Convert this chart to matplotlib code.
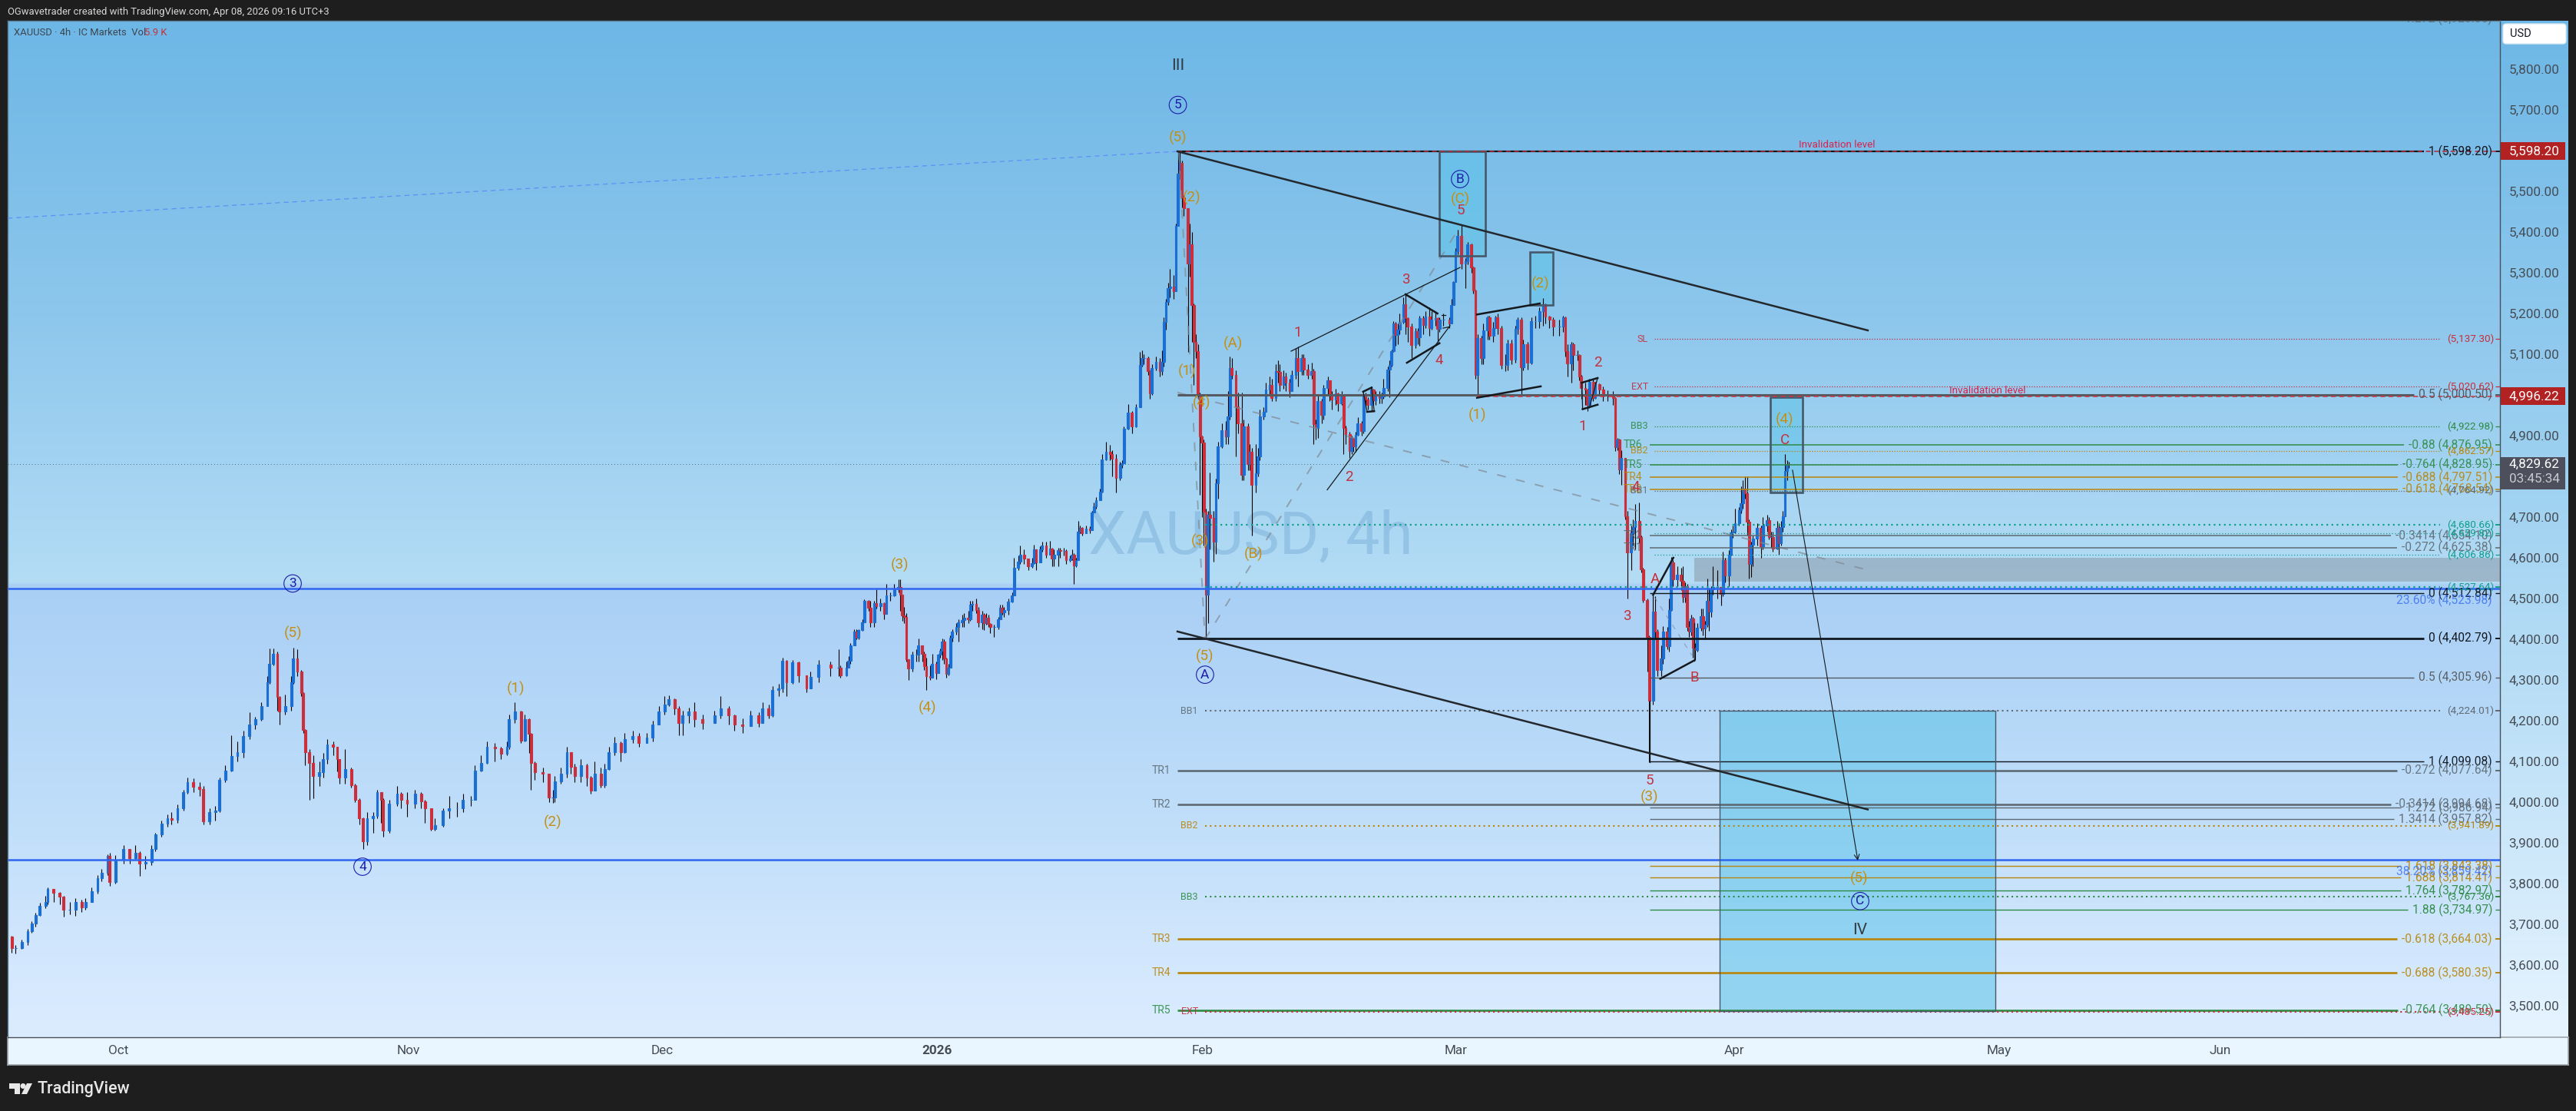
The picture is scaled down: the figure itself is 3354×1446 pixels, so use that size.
import matplotlib
matplotlib.use('Agg')
from matplotlib import pyplot as plt
from matplotlib import colors as mcolors
from matplotlib.patches import FancyBboxPatch, Polygon, Circle, Rectangle
from matplotlib.transforms import IdentityTransform
import numpy as np

plt.rcParams['font.family'] = ['Roboto', 'DejaVu Sans']

# 蜡烛数据: 价格 (横轴为4小时K线序号)
first_open = 3669
bars_autumn = [2,4,7,10,12,14,16,19,20,23,26,28,31,34,37,39,42,45,47,50,51,54,58,61,64,66,69,72,74,77,
               80,82,85,88,90,93,96,98,101,104,106,109,112,115,118,121,124,127,130,131,133,135,136,139,142,143,145,147,148,149,
               151,153,156,158,160,163,165,166,169,172,174,176,178,180,183,185,187,188,191,195,197,200,204,207,209,212,214,218,221,225,
               228,232,234,237,240,244,247,250,251,254,257,259,261,262,264,268,271,273,274,277,280,282,284,287,290,292,294,297,299,301,
               304,307,309,313,316,320,323,326,329,331,334,336,338,341,344,348,354,357,361,364,368,372,376,378,381,383,386,388,390,393,
               396,400,402,406,412,416,417,420]
close_autumn = [3642,3642,3656,3683,3701,3723,3746,3755,3786,3777,3768,3735,3735,3755,3741,3755,3781,3813,3826,3867,3804,3858,3885,3862,3876,3849,3853,3885,3921,3948,
                3961,3957,3984,4024,4049,4037,4033,3952,3975,3979,4055,4078,4114,4123,4163,4190,4204,4235,4294,4339,4365,4258,4222,4235,4294,4352,4321,4267,4177,4123,
                4096,4064,4073,4105,4141,4136,4105,4060,4082,4042,4006,3961,3903,3961,3966,4024,4006,3930,3997,4020,4006,3997,4020,4002,3984,3934,3943,3979,3984,3984,
                4006,4006,4078,4096,4136,4132,4118,4136,4204,4222,4150,4204,4168,4096,4073,4069,4011,4011,4051,4069,4123,4087,4064,4091,4060,4029,4069,4042,4082,4123,
                4145,4123,4154,4163,4145,4159,4190,4222,4240,4253,4231,4195,4213,4222,4204,4195,4213,4231,4213,4190,4186,4213,4195,4231,4213,4276,4280,4347,4294,4343,
                4311,4280,4307,4338,4330,4330,4312,4330]
high_autumn = [3672,3650,3662,3688,3708,3728,3752,3770,3790,3785,3780,3770,3755,3765,3760,3765,3790,3820,3835,3872,3875,3870,3895,3885,3895,3880,3868,3895,3925,3955,
               3970,3975,3995,4030,4060,4058,4050,4040,3985,3990,4060,4090,4165,4150,4175,4220,4210,4245,4310,4378,4378,4370,4260,4265,4310,4380,4375,4325,4270,4180,
               4130,4115,4100,4120,4155,4150,4135,4105,4130,4085,4045,4010,3962,3975,3975,4030,4025,4010,4005,4040,4025,4025,4030,4025,4005,3985,3960,3985,4015,4000,
               4020,4015,4090,4115,4150,4145,4135,4150,4215,4245,4225,4215,4205,4170,4100,4085,4070,4030,4065,4085,4135,4120,4095,4105,4095,4065,4100,4085,4095,4135,
               4160,4150,4170,4175,4170,4170,4200,4235,4260,4262,4255,4235,4225,4232,4245,4215,4225,4260,4235,4215,4205,4225,4220,4245,4240,4285,4290,4355,4350,4350,
               4345,4310,4320,4350,4345,4375,4335,4345]
low_autumn = [3630,3628,3640,3650,3680,3695,3720,3740,3750,3755,3750,3718,3725,3720,3730,3735,3755,3775,3805,3820,3795,3800,3850,3850,3860,3818,3835,3845,3880,3915,
              3940,3945,3950,3980,4020,4025,4015,3945,3945,3955,3975,4050,4075,4100,4110,4155,4180,4200,4235,4290,4335,4225,4190,4215,4225,4290,4310,4260,4170,4090,
              4005,4010,4040,4060,4095,4115,4075,4045,4045,4035,4000,3945,3885,3895,3925,3960,3950,3915,3925,3990,3985,3965,3985,3985,3950,3930,3930,3940,3960,3965,
              3975,3990,4005,4075,4095,4100,4105,4115,4130,4195,4145,4150,4120,4030,4055,4050,4000,3998,4000,4045,4060,4070,4050,4050,4040,4020,4030,4035,4035,4080,
              4115,4100,4120,4145,4135,4150,4150,4190,4215,4235,4215,4165,4165,4195,4185,4180,4195,4205,4190,4175,4170,4190,4185,4205,4205,4210,4260,4270,4260,4290,
              4295,4270,4285,4295,4310,4310,4305,4310]

bars_winter = [421,422,424,425,426,428,429,431,432,434,435,437,439,440,442,444,446,447,448,449,450,451,453,455,456,458,459,460,462,463,
               465,466,467,468,469,470,471,472,473,475,476,478,479,481,482,483,485,486,488,489,490,491,492,494,496,497,498,499,501,503,
               504,506,507,509,511,513,514,515,517,518,520,522,523,524,526,527,529,530,532,533,534,535,536,537,538,540,542,543,544,545,
               547,548,550,552,553,555,557,558,559,561,563,565,567]
close_winter = [4347,4384,4419,4403,4422,4441,4494,4477,4441,4489,4482,4489,4462,4508,4508,4523,4529,4510,4458,4455,4350,4328,4362,4362,4384,4365,4334,4309,4306,4340,
                4317,4362,4372,4395,4353,4316,4331,4404,4418,4431,4441,4447,4453,4449,4485,4487,4472,4441,4460,4439,4453,4437,4430,4430,4449,4477,4466,4472,4493,4508,
                4575,4590,4608,4598,4579,4587,4621,4589,4621,4631,4608,4623,4598,4608,4618,4617,4617,4594,4598,4608,4581,4595,4665,4674,4661,4672,4667,4711,4726,4741,
                4763,4841,4860,4854,4844,4797,4829,4832,4917,4957,4923,4970,5074]
high_winter = [4358,4390,4425,4425,4425,4450,4498,4496,4495,4495,4523,4500,4490,4535,4515,4535,4548,4548,4490,4480,4465,4350,4370,4375,4402,4385,4370,4355,4335,4365,
               4345,4365,4378,4402,4400,4355,4340,4410,4425,4440,4450,4460,4465,4470,4495,4495,4500,4480,4470,4465,4465,4460,4440,4436,4455,4485,4485,4480,4500,4515,
               4600,4605,4630,4620,4595,4600,4632,4620,4628,4640,4640,4642,4625,4620,4625,4625,4625,4620,4605,4620,4612,4600,4690,4680,4675,4680,4678,4716,4735,4750,
               4770,4855,4885,4878,4865,4855,4835,4840,4922,4977,4960,4978,5105]
low_winter = [4335,4340,4384,4400,4400,4420,4441,4470,4430,4430,4475,4470,4450,4490,4495,4505,4515,4470,4445,4440,4345,4300,4320,4345,4345,4345,4325,4275,4300,4305,
              4302,4320,4355,4350,4340,4305,4312,4343,4395,4412,4395,4430,4430,4440,4445,4470,4465,4430,4425,4422,4435,4430,4415,4405,4425,4450,4460,4455,4460,4490,
              4508,4570,4585,4585,4570,4575,4585,4570,4590,4615,4600,4620,4580,4580,4580,4600,4605,4585,4590,4595,4535,4578,4632,4660,4655,4660,4660,4667,4712,4720,
              4741,4760,4840,4840,4800,4760,4790,4820,4832,4915,4905,4920,5005]

bars_feb = [568,569,571,572,573,575,577,578,579,580,581,582,584,585,586,587,588,589,591,592,593,594,595,596,597,598,599,600,601,602,
            604,605,606,608,610,611,612,613,615,616,618,619,621,622,623,625,626,627,629,630,632,633,635,636,637,639,640,642,643,645,
            646,648,649,651,653,654,655,656,658,659,661,662,663,665,666,668,669,670,672,673,674,675,676,678,679,680,681,683,684,685,
            687,688,689,691,692,693,694,695,696,697,699,700,701,703,705,706,707,709,710,712,713,715,716,717,719,722,723,724]
close_feb = [5090,5090,5058,5004,5066,5082,5058,5082,5180,5229,5262,5266,5255,5415,5544,5569,5485,5458,5323,5370,5221,5131,5108,5000,4898,4883,4714,4509,4706,4699,
             4640,4783,4873,4914,4898,4947,5066,5049,4972,4931,4804,4923,4830,4861,4779,4808,4849,4947,4959,5013,5025,4992,5058,5056,5025,5045,5031,5009,5049,5090,
             5058,5090,5062,5049,5058,4928,4919,4984,4951,5017,5035,5000,4988,5004,4980,4996,4919,4904,4863,4894,4873,4902,4931,4912,5000,4988,4976,5013,4986,5000,
             4992,4996,5017,5062,5074,5107,5176,5148,5160,5180,5223,5189,5168,5123,5157,5141,5189,5172,5193,5164,5184,5188,5162,5184,5184,5176,5220,5278]
high_feb = [5110,5100,5095,5060,5075,5095,5090,5110,5190,5235,5275,5310,5295,5420,5598,5598,5575,5490,5426,5420,5400,5225,5150,5125,5005,4900,4890,4720,4715,4810,
            4715,4795,4885,4930,4935,5010,5095,5090,5060,5005,5005,4940,4930,4880,4870,4880,4870,4965,4970,5030,5045,5040,5075,5085,5075,5060,5055,5040,5060,5115,
            5118,5100,5100,5075,5080,5065,4940,5000,4990,5025,5045,5030,5010,5015,5005,5010,4998,4925,4910,4900,4895,4910,4945,4935,5005,5005,4995,5020,5015,5010,
            5010,5005,5040,5070,5085,5112,5182,5180,5175,5200,5240,5250,5190,5175,5165,5165,5195,5195,5205,5215,5205,5205,5190,5190,5200,5190,5235,5280]
low_feb = [5070,5075,5050,4990,5000,5060,5045,5050,5070,5160,5220,5240,5235,5255,5445,5530,5460,5440,5105,5290,5130,5025,5090,4990,4755,4700,4630,4403,4440,4620,
           4590,4610,4745,4870,4880,4880,4940,5040,4850,4905,4790,4790,4815,4815,4655,4760,4800,4840,4940,4960,5000,4985,4985,5030,5010,5015,5010,4995,5020,5040,
           5020,5050,5050,5040,5040,4880,4890,4895,4930,4940,5000,4985,4965,4975,4960,4975,4855,4880,4845,4855,4860,4860,4900,4900,4905,4975,4965,4960,4975,4975,
           4980,4980,4990,5010,4995,5070,5105,5120,5125,5150,5175,5150,5130,5090,5115,5125,5120,5150,5165,5145,5160,5170,5130,5155,5170,5165,5175,5235]

bars_mar = [725,726,728,730,731,733,734,735,736,738,739,741,742,744,745,746,748,750,751,753,755,756,758,759,761,763,765,767,769,770,
            772,774,777,779,780,781,783,784,786,787,788,790,791,792,794,795,797,799,801,804,805,806,807,808,810,811,813,814,815,817,
            818,819,821,822,824,825,826,828,829,831,832,833,834,836,838,839,840,841,842,843,844,845,846,848,849,850,851,852,853,854,
            856,858,859,860,862,863,864,865,867,868,869,870,871,872,873,874,876,878,879,881,882,883,884,886,887,888,889,890,891,892]
close_mar = [5352,5391,5322,5328,5370,5313,5256,5049,5140,5090,5159,5190,5146,5165,5190,5165,5074,5074,5127,5086,5162,5184,5067,5124,5080,5181,5181,5206,5222,5193,
             5184,5168,5168,5190,5108,5077,5124,5099,5099,5045,5017,5014,4976,5033,4992,5027,5014,5002,5002,4992,4871,4890,4817,4845,4701,4614,4660,4676,4690,4651,
             4572,4497,4406,4249,4468,4419,4324,4352,4419,4383,4472,4588,4547,4558,4544,4503,4530,4431,4418,4450,4380,4374,4428,4456,4426,4436,4494,4468,4522,4528,
             4528,4512,4594,4556,4608,4663,4665,4685,4717,4734,4770,4758,4689,4585,4632,4648,4673,4629,4679,4692,4651,4651,4622,4673,4635,4676,4702,4814,4830,4829.62]
high_mar = [5360,5405,5418,5335,5375,5372,5315,5258,5150,5145,5175,5195,5195,5180,5195,5200,5170,5100,5135,5135,5170,5190,5190,5135,5130,5190,5195,5215,5237,5225,
            5195,5190,5185,5195,5192,5125,5130,5128,5110,5100,5050,5030,5015,5040,5040,5033,5028,5020,5012,5010,4995,4895,4892,4865,4845,4715,4680,4695,4733,4735,
            4655,4575,4500,4410,4510,4505,4425,4385,4432,4430,4500,4602,4595,4580,4575,4580,4540,4535,4445,4460,4455,4390,4440,4475,4475,4445,4550,4525,4530,4580,
            4570,4525,4615,4600,4618,4670,4680,4720,4725,4775,4790,4800,4800,4695,4640,4655,4685,4680,4700,4705,4700,4665,4665,4690,4685,4690,4715,4854,4840,4835]
low_mar = [5310,5345,5310,5262,5320,5300,5250,5040,5000,5075,5075,5135,5135,5130,5175,5150,5065,5058,5060,5075,5080,5150,5000,5060,5062,5075,5165,5165,5170,5175,
           5165,5145,5145,5155,5095,5045,5030,5060,5085,5035,4990,4975,4960,4975,4985,4990,5000,4985,4985,4975,4862,4865,4805,4780,4695,4500,4570,4630,4620,4635,
           4565,4490,4320,4099,4240,4400,4310,4310,4340,4375,4370,4470,4530,4530,4520,4490,4490,4420,4405,4410,4355,4350,4370,4420,4410,4400,4430,4420,4455,4510,
           4500,4483,4505,4540,4530,4605,4650,4660,4680,4710,4720,4745,4655,4550,4552,4580,4630,4600,4620,4665,4645,4625,4615,4620,4607,4630,4665,4740,4790,4820]

# 时间轴刻度
month_labels = ['Oct', 'Nov', 'Dec', '2026', 'Feb', 'Mar', 'Apr', 'May', 'Jun']
month_bars = [55.4, 200.8, 327.7, 465.4, 598.5, 725.4, 864.6, 997.3, 1108.1]
price_ticks = [5800, 5700, 5500, 5400, 5300, 5200, 5100, 4900, 4700, 4600, 4500, 4400, 4300, 4200, 4100, 4000,
               3900, 3800, 3700, 3600, 3500]

# 斐波那契水平线: 价格与文字
big_fib_prices = [5598.20, 5000.50, 4402.79]
big_fib_labels = ['1 (5,598.20)', '0.5 (5,000.50)', '0 (4,402.79)']
thin_fib_prices = [4512.84, 4305.96, 4099.08, 3986.94, 3957.82, 3843.38, 3814.41, 3782.97, 3734.97]
thin_fib_labels = ['0 (4,512.84)', '0.5 (4,305.96)', '1 (4,099.08)', '1.272 (3,986.94)', '1.3414 (3,957.82)',
                   '1.618 (3,843.38)', '1.688 (3,814.41)', '1.764 (3,782.97)', '1.88 (3,734.97)']
upper_tr_names = ['TR6', 'TR5', 'TR4', 'TR3', 'TR2', 'TR1']
upper_tr_prices = [4876.95, 4828.95, 4797.51, 4768.54, 4654.10, 4625.38]
upper_tr_labels = ['-0.88 (4,876.95)', '-0.764 (4,828.95)', '-0.688 (4,797.51)', '-0.618 (4,768.54)',
                   '-0.3414 (4,654.10)', '-0.272 (4,625.38)']
lower_tr_names = ['TR1', 'TR2', 'TR3', 'TR4', 'TR5']
lower_tr_prices = [4077.64, 3994.68, 3664.03, 3580.35, 3489.50]
lower_tr_labels = ['-0.272 (4,077.64)', '-0.3414 (3,994.68)', '-0.618 (3,664.03)', '-0.688 (3,580.35)',
                   '-0.764 (3,489.50)']
upper_bb_names = ['SL', 'EXT', 'BB3', 'BB2', 'BB1']
upper_bb_prices = [5137.30, 5020.62, 4922.98, 4862.57, 4764.92]
lower_bb_names = ['BB1', 'BB2', 'BB3', 'EXT']
lower_bb_prices = [4224.01, 3941.89, 3767.36, 3485.25]
teal_prices = [4680.66, 4659.82, 4606.86, 4527.64]
pct_prices = [4523.98, 3859.42]
pct_labels = ['23.60% (4,523.98)', '38.20% (3,859.42)']
last_price = 4829.62
red_prices = [5598.20, 4996.22]

# 波浪标注 (序号, 价格)
gold_text = ['(5)', '(1)', '(2)', '(3)', '(4)', '(5)', '(2)', '(1)', '(4)', '(3)', '(5)', '(A)', '(B)', '(C)', '(1)', '(2)',
             '(3)', '(4)', '(5)']
gold_bar = [142.7, 254.6, 273, 446.8, 460.4, 586, 592.9, 590.4, 598, 597.3, 599.6, 613.5, 624, 727.5, 736, 767.5, 822.3, 890, 927.2]
gold_price = [4415, 4279, 3951, 4583, 4231, 5632, 5485, 5058, 4981, 4641, 4357, 5126, 4608, 5481, 4951, 5272, 4013, 4938, 3813]
red_text = ['5', '3', '1', '4', '2', '1', '2', '3', '4', '5', 'A', 'B', 'C']
red_bar = [727.5, 700.2, 646.2, 717, 671.8, 788.7, 796.2, 810.8, 815.4, 822.3, 825, 844.9, 890]
red_price = [5453, 5283, 5153, 5085, 4799, 4923, 5080, 4457, 4774, 4053, 4547, 4306, 4889]
circle_text = ['5', '3', '4', 'A', 'B', 'C']
circle_bar = [586, 142.7, 177.7, 599.6, 727.3, 927.7]
circle_price = [5712, 4537, 3841.5, 4313, 5530, 3757]
roman_text = ['III', 'IV']
roman_bar = [586, 927.7]
roman_price = [5809, 3685]

# 趋势线与形态线: (序号1, 价格1, 序号2, 价格2)
trend_lines = [(585.8, 5598, 931.5, 5158.5), (585.8, 4419, 931.5, 3982)]
thin_lines = [(642.7, 5107.5, 727.3, 5313), (660.8, 4767, 722.3, 5170), (678.8, 5008, 680.8, 4958.5), (683, 5018, 684.3, 4960),
              (788.3, 5030, 788.7, 4965), (796.2, 5041.5, 792, 4968), (844.6, 4348, 844.6, 4439), (822.3, 4099, 822.3, 4250),
              (718, 5196, 720, 5196), (718.8, 5164, 721.8, 5167)]
thick_lines = [(700, 5247, 716, 5200), (700.7, 5079, 717, 5127), (678.8, 5008, 683, 5018), (680.8, 4958.5, 684.3, 4960),
               (735.8, 5197.5, 767.2, 5224.5), (735.8, 4993, 767.7, 5021), (788.3, 5030, 796.2, 5041.5), (788.7, 4965, 796.2, 4976),
               (824, 4509, 834.1, 4600), (827.6, 4303, 844.6, 4348)]
dashed_lines = [(585.8, 5006, 931.5, 4570), (599.6, 4400, 726.5, 5407.5), (586.5, 5598, 599.6, 4400), (824.6, 4504, 843.5, 4360)]
blue_dash = (0, 5434, 585.8, 5598)
arrow_line = (893.8, 4815.7, 926.5, 3856.6)

# 矩形区域: (序号1, 序号2, 价格低, 价格高)
teal_boxes = [(717, 740, 5342, 5598), (762.3, 773.8, 5221, 5351), (882.7, 898.7, 4761, 4995), (857.3, 995.4, 3487, 4224)]
gray_zone = (844.6, 1248.1, 4542, 4600)

W, H = 3355, 1446
left, right, top, bottom = 10, 3255, 27, 1350
PX_PER_BAR = 2.6
PX_PER_USD = 0.53
y_max = 5800 + (90 - top) / PX_PER_USD
y_min = 5800 - (bottom - 90) / PX_PER_USD
x_max = (right - left) / PX_PER_BAR

GOLD = '#b8860b'
GREEN = '#2e8b45'
GRAY = '#5f6a74'
RED = '#c62f3c'
BLUE = '#2f66f0'
TEAL = '#11a08a'


def px_axes(x0, y0, x1, y1):
    return [x0 / W, 1 - y1 / H, (x1 - x0) / W, (y1 - y0) / H]


def gradient(stops):
    # 竖直渐变背景
    ys = np.linspace(0, 1, 700)
    pos = [s[0] for s in stops]
    rgb = np.array([mcolors.to_rgb(s[1]) for s in stops])
    return np.stack([np.interp(ys, pos, rgb[:, i]) for i in range(3)], axis=1)[:, None, :]


fig = plt.figure(figsize=(W / 100, H / 100), dpi=100, facecolor='#1e1e1e')

# 右侧价格条和底部时间条
ax_r = fig.add_axes(px_axes(right, top, 3344, bottom), zorder=1)
ax_r.imshow(gradient([(0, '#6db7e6'), (0.5, '#a4d4f2'), (1, '#e6f4ff')]), extent=[0, 1, y_min, y_max], aspect='auto')
ax_r.set_xlim(0, 1)
ax_r.set_ylim(y_min, y_max)
ax_r.set_xticks([])
ax_r.set_yticks([])
for s in ax_r.spines.values():
    s.set_visible(False)

ax_t = fig.add_axes(px_axes(left, bottom, 3344, 1386), zorder=1, facecolor='#eaf6ff')
ax_t.set_xticks([])
ax_t.set_yticks([])
for s in ax_t.spines.values():
    s.set_color('#a0a4a8')
    s.set_linewidth(1.2)

ax = fig.add_axes(px_axes(left, top, right, bottom), zorder=2)
ax.imshow(gradient([(0, '#6db7e6'), (0.28, '#8cc6ec'), (0.5533, '#b4dcf5'), (0.5541, '#a9cff5'), (0.75, '#bcdcf9'), (1, '#dcecff')]),
          extent=[0, x_max, y_min, y_max], aspect='auto', zorder=0)
ax.set_xlim(0, x_max)
ax.set_ylim(y_min, y_max)
ax.yaxis.tick_right()
ax.set_yticks(price_ticks, [f'{p:,.2f}' for p in price_ticks])
ax.set_xticks(month_bars, month_labels)
ax.tick_params(axis='y', length=0, pad=8.3, labelsize=12.3, labelcolor='#454c54')
ax.tick_params(axis='x', length=0, pad=7, labelsize=12.3, labelcolor='#454c54')
for lb in ax.get_yticklabels():
    lb.set_horizontalalignment('left')
ax.get_xticklabels()[3].set_fontweight('bold')
for name, s in ax.spines.items():
    s.set_color('#4a5058' if name in ('right', 'bottom') else '#5f7f95')
    s.set_linewidth(1.0)

# 水印
ax.text((1417 - left) / PX_PER_BAR, 4650, 'XAUUSD, 4h', fontsize=56.5, color='#6fa6d2', alpha=0.42, ha='left', va='center', zorder=1)

# 区域
for x0, x1, p0, p1 in teal_boxes:
    lw = 1.0 if x1 - x0 > 100 else 1.9
    ax.add_patch(Rectangle((x0, p0), x1 - x0, p1 - p0, fc='#5cc3e8', ec='none', alpha=0.55, zorder=2))
    ax.add_patch(Rectangle((x0, p0), x1 - x0, p1 - p0, fc='none', ec='#46596a', lw=lw, zorder=6))
ax.add_patch(Rectangle((gray_zone[0], gray_zone[2]), gray_zone[1] - gray_zone[0], gray_zone[3] - gray_zone[2],
                       fc='#8a9aa8', ec='none', alpha=0.55, zorder=2))

# K线
bars = np.array(bars_autumn + bars_winter + bars_feb + bars_mar, dtype=float)
closes = np.array(close_autumn + close_winter + close_feb + close_mar, dtype=float)
highs = np.array(high_autumn + high_winter + high_feb + high_mar, dtype=float)
lows = np.array(low_autumn + low_winter + low_feb + low_mar, dtype=float)
opens = np.r_[first_open, closes[:-1]]
candle_colors = np.where(closes >= opens, '#1b6fd2', '#cb2f3b')
ax.vlines(bars, lows, highs, color='black', lw=0.8, zorder=3)
ax.bar(bars, closes - opens, bottom=opens, width=1.1, color=candle_colors, edgecolor=candle_colors, lw=0.8, zorder=3.5)

renderer = fig.canvas.get_renderer()
LABEL_X = (3245 - left) / PX_PER_BAR
STUB_X = (3249 - left) / PX_PER_BAR
inv = ax.transData.inverted()


def level(price, label, start, color, lw, text_color=None, ls='-', size=11.2, gap=6, label_x=LABEL_X, alpha=1.0):
    # 文字在右, 线段停在文字左边
    t = ax.text(label_x, price, label, ha='right', va='center', fontsize=size, color=text_color or color, zorder=7, alpha=alpha)
    x0_px = t.get_window_extent(renderer).x0
    end = inv.transform((x0_px - gap, 0))[0]
    ax.hlines(price, start, end, color=color, lw=lw, ls=ls, zorder=5)
    ax.hlines(price, STUB_X, x_max, color=color, lw=min(lw, 1.4), ls='-', zorder=5)


def left_tag(x, price, text, color, size):
    ax.text(x, price, text, ha='right', va='center', fontsize=size, color=color, zorder=7, alpha=0.9)


FIB_START = (1533 - left) / PX_PER_BAR
LOW_START = (2148 - left) / PX_PER_BAR
DOT_START = (2154 - left) / PX_PER_BAR
DOT_START_LOW = (1569 - left) / PX_PER_BAR
DOT_LABEL_X = (3247 - left) / PX_PER_BAR

# 大级别
for p, lab, col, lw in zip(big_fib_prices, big_fib_labels, ['#10181f', '#555a60', '#10181f'], [1.6, 2.2, 2.0]):
    level(p, lab, FIB_START, col, lw)

# 细线级别
thin_colors = ['#10181f', '#555a60', '#10181f', GRAY, GRAY, GOLD, GOLD, GREEN, GREEN]
for p, lab, col in zip(thin_fib_prices, thin_fib_labels, thin_colors):
    level(p, lab, LOW_START, col, 1.0, text_color=col, alpha=0.95)

# TR 上方
tr_up_colors = [GREEN, GREEN, GOLD, GOLD, GRAY, GRAY]
for name, p, lab, col in zip(upper_tr_names, upper_tr_prices, upper_tr_labels, tr_up_colors):
    level(p, lab, LOW_START, col, 1.1, alpha=0.9)
    left_tag((2138 - left) / PX_PER_BAR, p, name, col, 10)

# TR 下方
tr_low_colors = [GRAY, GRAY, GOLD, GOLD, GREEN]
for name, p, lab, col in zip(lower_tr_names, lower_tr_prices, lower_tr_labels, tr_low_colors):
    level(p, lab, FIB_START, col, 1.9, alpha=0.9)
    left_tag((1524 - left) / PX_PER_BAR, p, name, col, 10)

# BB / SL / EXT
for name, p, col in zip(upper_bb_names, upper_bb_prices, [RED, RED, GREEN, GOLD, GRAY]):
    level(p, f'({p:,.2f})', DOT_START, col, 0.9, ls=(0, (1, 1.6)), size=9.7, gap=9, label_x=DOT_LABEL_X)
    left_tag((2146 - left) / PX_PER_BAR, p, name, col, 9)
for name, p, col in zip(lower_bb_names, lower_bb_prices, [GRAY, GOLD, GREEN, RED]):
    level(p, f'({p:,.2f})', DOT_START_LOW, col, 1.5, ls=(0, (1, 2)), size=9.7, gap=9, label_x=DOT_LABEL_X)
    left_tag((1560 - left) / PX_PER_BAR, p, name, col, 9)

# 青色点线
for p, start, lw in zip(teal_prices, [DOT_START_LOW, DOT_START, DOT_START, DOT_START_LOW], [1.6, 0.9, 0.9, 1.6]):
    level(p, f'({p:,.2f})', start, TEAL, lw, ls=(0, (1, 2)), size=9.7, gap=9, label_x=DOT_LABEL_X)

# 百分比蓝线
for p, lab in zip(pct_prices, pct_labels):
    ax.hlines(p, 0, x_max, color=BLUE, lw=1.8, zorder=5)
    ax.text(LABEL_X, p - 29, lab, ha='right', va='center', fontsize=11.2, color=BLUE, alpha=0.75, zorder=7)

# 顶部被裁切的标签
ax.text(LABEL_X, 5923.35, '1.272 (5,923.35)', ha='right', va='center', fontsize=11.2, color=GRAY, clip_on=True, zorder=7)

# 现价虚线
ax.hlines(last_price, 0, x_max, color='#33414d', lw=0.7, alpha=0.7, ls=(0, (1, 3)), zorder=4)
ax.hlines(red_prices[0], FIB_START, x_max, color='#b02a37', lw=1.1, ls=(0, (4, 3)), zorder=6)
ax.hlines(red_prices[1], (1923 - left) / PX_PER_BAR, x_max, color='#d0303c', lw=1.1, ls=(0, (4, 3)), zorder=6)
ax.text(916, 5615, 'Invalidation level', ha='center', va='center', fontsize=9.6, color='#d8234a', zorder=7)
ax.text(991.4, 5009.5, 'Invalidation level', ha='center', va='center', fontsize=9.6, color='#d8234a', zorder=7)

# 趋势线
for x0, y0, x1, y1 in trend_lines:
    ax.plot([x0, x1], [y0, y1], color='#23282d', lw=1.8, zorder=6)
for x0, y0, x1, y1 in thin_lines:
    ax.plot([x0, x1], [y0, y1], color='#15191d', lw=0.9, zorder=6)
for x0, y0, x1, y1 in thick_lines:
    ax.plot([x0, x1], [y0, y1], color='#15191d', lw=1.8, zorder=6)
for i, (x0, y0, x1, y1) in enumerate(dashed_lines):
    ax.plot([x0, x1], [y0, y1], color='#808a94', lw=1.4 if i < 3 else 0.8, alpha=0.7, ls=(0, (6, 7)), zorder=4)
ax.plot([blue_dash[0], blue_dash[2]], [blue_dash[1], blue_dash[3]], color='#5f8ff5', lw=0.9, ls=(0, (5, 4)), zorder=4)
ax.annotate('', xy=(arrow_line[2], arrow_line[3]), xytext=(arrow_line[0], arrow_line[1]),
            arrowprops=dict(arrowstyle='->', color='#15191d', lw=0.8, shrinkA=0, shrinkB=0, mutation_scale=12), zorder=7)

# 波浪标注
for t, x, y in zip(gold_text, gold_bar, gold_price):
    ax.text(x, y, t, color='#c48f12', fontsize=13.5, ha='center', va='center', zorder=8)
for t, x, y in zip(red_text, red_bar, red_price):
    ax.text(x, y, t, color='#c62f3c', fontsize=13.5, ha='center', va='center', zorder=8)
for t, x, y in zip(circle_text, circle_bar, circle_price):
    ax.text(x, y, t, color='#1c1ca8', fontsize=12.5, ha='center', va='center', zorder=8,
            bbox=dict(boxstyle='circle,pad=0.22', fc='none', ec='#1c1ca8', lw=0.8))
for t, x, y in zip(roman_text, roman_bar, roman_price):
    ax.text(x, y, t, color='#333b44', fontsize=15, ha='center', va='center', zorder=8)

# 右侧价格标签
for p in red_prices:
    ax_r.add_patch(Rectangle((0, p - 21), 0.955, 43, fc='#b22222', ec='none', zorder=3))
    ax_r.text(0.13, p, f'{p:,.2f}', color='white', fontsize=12.3, va='center', ha='left', zorder=4)
ax_r.add_patch(Rectangle((0, last_price - 61), 0.955, 79, fc='#4d505c', ec='none', zorder=3))
ax_r.text(0.13, last_price, f'{last_price:,.2f}', color='white', fontsize=12.3, va='center', ha='left', zorder=4)
ax_r.text(0.13, last_price - 37, '03:45:34', color='#c8cbd0', fontsize=12.3, va='center', ha='left', zorder=4)

# USD 按钮
fig.add_artist(FancyBboxPatch((3259, H - 57), 82, 26, boxstyle='round,pad=0,rounding_size=4', fc='white', ec='#d8eaf6',
                              transform=IdentityTransform(), zorder=10))
fig.text(3268 / W, 1 - 44 / H, 'USD', fontsize=10.5, color='#131722', va='center', zorder=11)

# 页眉页脚
fig.text(left / W, 1 - 15.5 / H, 'OGwavetrader created with TradingView.com, Apr 08, 2026 09:16 UTC+3', color='#d8d8d8',
         fontsize=9.4, va='center')
fig.text(18 / W, 1 - 42.5 / H, 'XAUUSD · 4h · IC Markets  Vol', color='#3d4650', fontsize=9.4, va='center', zorder=11)
fig.text(188 / W, 1 - 42.5 / H, '5.9 K', color='#c62f3c', fontsize=9.4, va='center', zorder=11)
fig.add_artist(Polygon([(12, H - 1410), (26, H - 1410), (26, H - 1424), (19, H - 1424), (19, H - 1417), (12, H - 1417)],
                       fc='#e8e8e8', ec='none', transform=IdentityTransform()))
fig.add_artist(Circle((30, H - 1413.5), 3.5, fc='#e8e8e8', ec='none', transform=IdentityTransform()))
fig.add_artist(Polygon([(35, H - 1410), (42, H - 1410), (35, H - 1424), (28, H - 1424)], fc='#e8e8e8', ec='none',
                       transform=IdentityTransform()))
fig.text(49 / W, 1 - 1417 / H, 'TradingView', color='#e8e8e8', fontsize=15.5, fontweight='medium', va='center')

fig.savefig('out.png', dpi=100, facecolor=fig.get_facecolor())
